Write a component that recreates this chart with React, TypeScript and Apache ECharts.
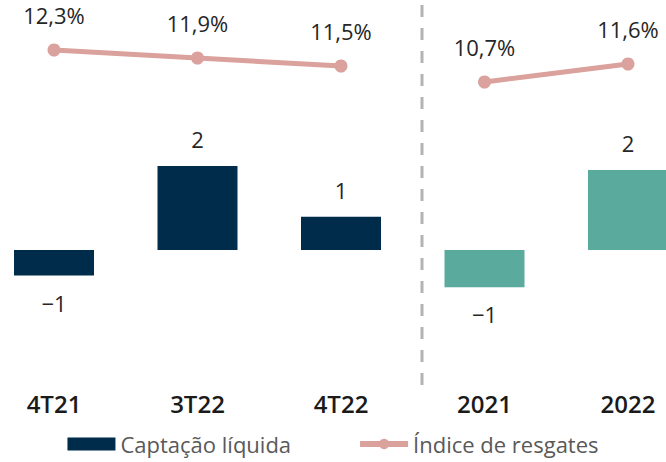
import React, { useEffect, useRef } from "react";
import * as echarts from "echarts";

const categories = ["4T21", "3T22", "4T22", "2021", "2022"];
const captacaoValues = [-0.64, 2.1, 0.83, -0.93, 2.0];
const barColors = ["#002C4B", "#002C4B", "#002C4B", "#5AAB9E", "#5AAB9E"];
const resgatesQuarter = [12.3, 11.9, 11.5, null, null];
const resgatesYear = [null, null, null, 10.7, 11.6];

const FONT = "'Open Sans', 'Noto Sans', sans-serif";

export default function App() {
  const ref = useRef<HTMLDivElement>(null);
  useEffect(() => {
    if (!ref.current) return;
    const chart = echarts.init(ref.current, undefined, { renderer: "svg" });
    const lineColor = "#DBA19C";
    const lineSeries = (data: (number | null)[]) => ({
      name: "Índice de resgates",
      type: "line",
      yAxisIndex: 1,
      data,
      symbol: "circle",
      symbolSize: 13,
      connectNulls: false,
      lineStyle: { color: lineColor, width: 5 },
      itemStyle: { color: lineColor },
      label: {
        show: true,
        position: "top",
        distance: 18,
        fontFamily: FONT,
        fontSize: 22,
        color: "#262626",
        formatter: (p: any) =>
          p.value == null ? "" : Number(p.value).toFixed(1).replace(".", ",") + "%",
      },
      z: 3,
    });
    chart.setOption({
      animation: false,
      grid: { left: 54, right: 38, top: 10, bottom: 92 },
      legend: {
        bottom: 2,
        left: "center",
        itemWidth: 48,
        itemHeight: 13,
        itemGap: 66,
        textStyle: { fontFamily: FONT, fontSize: 22, color: "#595959" },
        data: [
          { name: "Captação líquida", icon: "rect", itemStyle: { color: "#002C4B" } },
          {
            name: "Índice de resgates",
            lineStyle: { width: 6, color: lineColor },
            itemStyle: { color: lineColor },
          },
        ],
      },
      xAxis: {
        type: "category",
        data: categories,
        boundaryGap: false,
        axisLine: { show: false },
        axisTick: { show: false },
        splitLine: { show: false },
        axisLabel: {
          margin: 21,
          fontFamily: FONT,
          fontSize: 24,
          fontWeight: 600,
          color: "#1A1A1A",
        },
      },
      yAxis: [
        { type: "value", min: -3, max: 6, show: false, splitLine: { show: false } },
        { type: "value", min: -3.7, max: 14.3, show: false, splitLine: { show: false } },
      ],
      series: [
        {
          name: "Captação líquida",
          type: "bar",
          barWidth: 80,
          clip: false,
          data: captacaoValues.map((v, i) => ({
            value: v,
            itemStyle: { color: barColors[i] },
            label: { position: v < 0 ? "bottom" : "top" },
          })),
          label: {
            show: true,
            distance: 16,
            fontFamily: FONT,
            fontSize: 22,
            color: "#262626",
            formatter: (p: any) => {
              const r = Math.round(p.value);
              return r < 0 ? "\u2212" + Math.abs(r) : String(r);
            },
          },
          z: 2,
        },
        lineSeries(resgatesQuarter),
        lineSeries(resgatesYear),
      ],
      graphic: [
        {
          type: "line",
          shape: { x1: 422, y1: 5, x2: 422, y2: 392 },
          style: { stroke: "#B3B3B3", lineWidth: 3, lineDash: [12, 11] },
          silent: true,
        },
      ],
    });
    return () => chart.dispose();
  }, []);
  return <div ref={ref} style={{ width: 666, height: 462, position: "absolute", left: 0, top: 0 }} />;
}
